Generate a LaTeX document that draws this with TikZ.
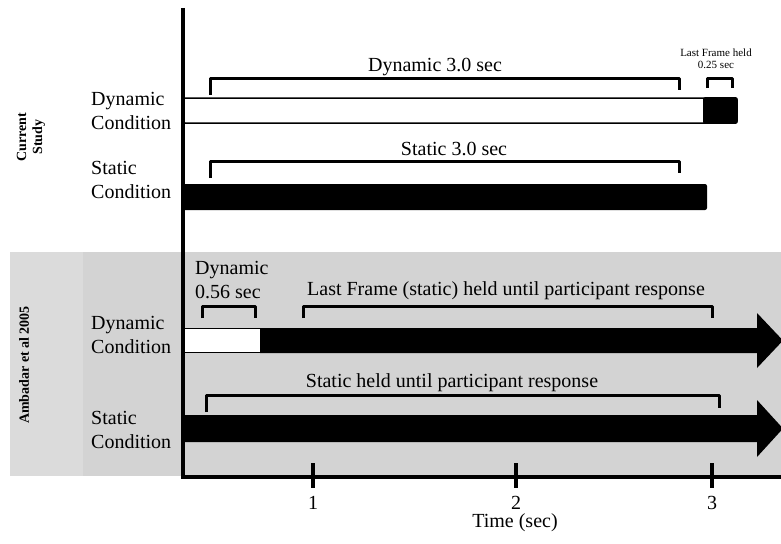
\documentclass[tikz,border=0pt]{standalone}
\usepackage{fontspec}
\setmainfont{Liberation Serif}
\definecolor{panelgray}{RGB}{211,211,211}
\definecolor{sidegray}{RGB}{219,219,219}
\tikzset{
  txt/.style={inner sep=0pt, font=\fontsize{20}{24}\selectfont},
  lbl/.style={txt, align=left, anchor=west},
  side/.style={inner sep=0pt, font=\fontsize{14}{16}\selectfont\bfseries, align=center, rotate=90},
  brk/.style={line width=3pt, line cap=butt, line join=round},
  axisline/.style={line width=4pt},
  bar/.style={draw=black, line width=1.5pt, rounded corners=2pt},
}
\begin{document}
\begin{tikzpicture}[x=1pt, y=-1pt]
\useasboundingbox (0,0) rectangle (781,543);
% backgrounds
\fill[panelgray] (10,252) rectangle (781,476);
\fill[sidegray] (10,252) rectangle (83,476);
% side labels
\node[side] (cur) at (31,137) {Current\\Study};
\node[side] (amb) at (24,365) {Ambadar et al 2005};
% condition labels
\node[lbl] (dyn1) at (91,111) {Dynamic\\Condition};
\node[lbl] (sta1) at (91,180) {Static\\Condition};
\node[lbl] (dyn2) at (91,335) {Dynamic\\Condition};
\node[lbl] (sta2) at (91,429.5) {Static\\Condition};
% current study bars
\draw[bar, fill=white] (183,98) rectangle (737,123);
\fill[black, rounded corners=2pt] (703,97.2) rectangle (737.7,123.8);
\fill[black, rounded corners=2pt] (183,184) rectangle (707,210);
% current study brackets
\draw[brk] (210,95) -- (210,78) -- (679,78) -- (679,90);
\node[txt] (t1) at (435,67) {Dynamic 3.0 sec};
\draw[brk] (707,88) -- (707,78) -- (732,78) -- (732,88);
\node[inner sep=0pt, font=\fontsize{11}{12}\selectfont, align=center] (t2) at (716,59) {Last Frame held\\0.25 sec};
\draw[brk] (210,178) -- (210,161) -- (679,161) -- (679,173);
\node[txt] (t3) at (454,149) {Static 3.0 sec};
% Ambadar bars
\fill[black] (260,328) -- (757,328) -- (757,313) -- (783,340.5) -- (757,368) -- (757,353) -- (260,353) -- cycle;
\draw[fill=white, line width=1pt] (183,328.5) rectangle (260,352.5);
\fill[black] (183,415) -- (757,415) -- (757,400) -- (783,428.5) -- (757,457) -- (757,442) -- (183,442) -- cycle;
% Ambadar brackets
\draw[brk] (202,318) -- (202,306) -- (255,306) -- (255,318);
\node[lbl] (t4) at (195,280.5) {Dynamic\\0.56 sec};
\draw[brk] (303,318) -- (303,306) -- (712,306) -- (712,318);
\node[txt] (t5) at (506,291) {Last Frame (static) held until participant response};
\draw[brk] (206,412) -- (206,395) -- (719,395) -- (719,408);
\node[txt] (t6) at (452,383) {Static held until participant response};
% axes
\draw[axisline] (183,8) -- (183,477) -- (781,477);
\foreach \x/\n in {313/1,516/2,712/3}{
  \draw[axisline] (\x,463) -- (\x,488);
  \node[txt] (tick\n) at (\x,503) {\n};
}
\node[txt] (tlabel) at (515,523) {Time (sec)};
\end{tikzpicture}
\end{document}
